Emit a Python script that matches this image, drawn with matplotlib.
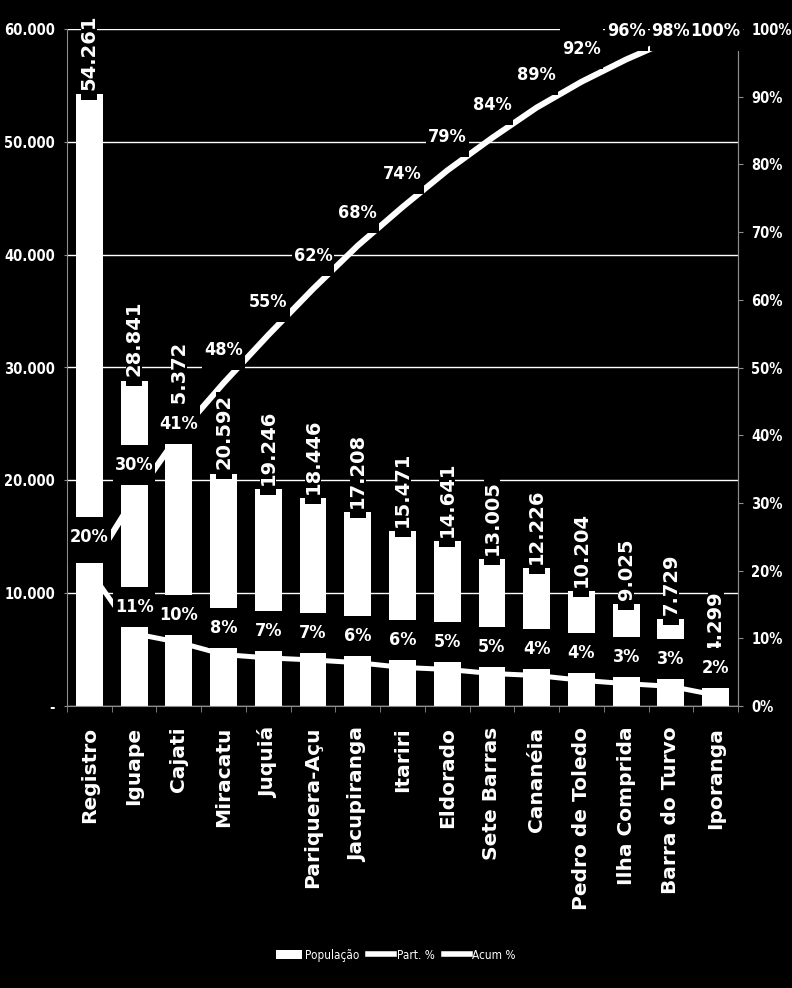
import matplotlib
matplotlib.use("Agg")
import matplotlib.pyplot as plt
from matplotlib.path import Path
from matplotlib.patches import Patch
from matplotlib.lines import Line2D
from matplotlib.font_manager import FontProperties

# ---------------- data ----------------
categories = ["Registro", "Iguape", "Cajati", "Miracatu", "Juquiá", "Pariquera-Açu",
              "Jacupiranga", "Itariri", "Eldorado", "Sete Barras", "Cananéia",
              "Pedro de Toledo", "Ilha Comprida", "Barra do Turvo", "Iporanga"]
populacao = [54261, 28841, 25372, 20592, 19246, 18446, 17208, 15471, 14641,
             13005, 12226, 10204, 9025, 7729, 4299]
part_pct = [20.1, 10.7, 9.4, 7.6, 7.1, 6.8, 6.4, 5.7, 5.4, 4.8, 4.5, 3.8, 3.3, 2.9, 1.6]
acum_pct = [20.1, 30.7, 40.1, 47.7, 54.8, 61.6, 68.0, 73.7, 79.1, 83.9, 88.4, 92.2, 95.5, 98.4, 100.0]
part_labels = ["20%", "11%", "10%", "8%", "7%", "7%", "6%", "6%", "5%", "5%",
               "4%", "4%", "3%", "3%", "2%"]
acum_labels = ["20%", "30%", "41%", "48%", "55%", "62%", "68%", "74%", "79%", "84%",
               "89%", "92%", "96%", "98%", "100%"]
left_ticks = [0, 10000, 20000, 30000, 40000, 50000, 60000]
right_ticks = [0, 10, 20, 30, 40, 50, 60, 70, 80, 90, 100]
legend_labels = ["População", "Part. %", "Acum %"]

GRAY = "#8c8c8c"
W, H = 792, 988


def nprops(size, weight="bold"):
    return FontProperties(family="DejaVu Sans", stretch="condensed", weight=weight, size=size)


def fmt_thousands(v):
    return "-" if v == 0 else f"{v:,}".replace(",", ".")


class PadBox:
    """Rectangle box with independent paddings (pixels) in the text frame."""
    def __init__(self, l, r, b, t):
        self.l, self.r, self.b, self.t = l, r, b, t

    def __call__(self, x0, y0, width, height, mutation_size, *args):
        xa, xb = x0 - self.l, x0 + width + self.r
        ya, yb = y0 - self.b, y0 + height + self.t
        return Path([(xa, ya), (xb, ya), (xb, yb), (xa, yb), (xa, ya)], closed=True)


fig = plt.figure(figsize=(W / 100, H / 100), dpi=100, facecolor="black")
ax = fig.add_axes([67 / W, 1 - 706 / H, (738 - 67) / W, (706 - 29) / H])
ax.set_facecolor("black")

x = list(range(len(categories)))
ax.bar(x, populacao, width=0.6, color="white", zorder=2)
ax.set_xlim(-0.5, len(categories) - 0.5)
ax.set_ylim(0, 60000)
ax.set_yticks(left_ticks)
ax.set_yticklabels([fmt_thousands(v) for v in left_ticks])
ax.grid(axis="y", color="white", lw=1)
ax.set_axisbelow(True)
ax.spines["top"].set_visible(False)
for s in ["left", "right", "bottom"]:
    ax.spines[s].set_color(GRAY)
ax.tick_params(axis="y", colors=GRAY, length=2.2, labelcolor="white", pad=6.5)
for lab in ax.get_yticklabels():
    lab.set_fontproperties(nprops(10.5))

ax.set_xticks(x)
ax.set_xticklabels(categories, rotation=90, fontsize=14.5, fontweight="bold",
                   family="DejaVu Sans", color="white")
ax.tick_params(axis="x", which="major", length=0, pad=15)
ax.set_xticks([i - 0.5 for i in range(len(categories) + 1)], minor=True)
ax.tick_params(axis="x", which="minor", length=4.5, color=GRAY)

ax2 = ax.twinx()
ax2.set_ylim(0, 100)
ax2.set_yticks(right_ticks)
ax2.set_yticklabels([f"{v}%" for v in right_ticks])
ax2.tick_params(axis="y", colors=GRAY, length=3.6, labelcolor="white", pad=6)
for lab in ax2.get_yticklabels():
    lab.set_fontproperties(nprops(10.5))
for s in ["top", "left", "bottom"]:
    ax2.spines[s].set_visible(False)
ax2.spines["right"].set_color(GRAY)

ax2.plot(x, part_pct, color="white", lw=3.6, zorder=3)
ax2.plot(x, acum_pct, color="white", lw=4.3, zorder=3)

# bar value labels
for i, v in enumerate(populacao):
    ax2.annotate(fmt_thousands(v), xy=(i, v), xycoords=ax.transData,
                 xytext=(0, 3), textcoords="offset points", rotation=90,
                 ha="center", va="bottom", fontsize=14, fontweight="bold",
                 family="DejaVu Sans", color="white", zorder=5, annotation_clip=False,
                 bbox=dict(boxstyle=PadBox(10, 2, -1.5, -1.5), fc="black", ec="none"))

# Part % labels
for i, (p, lbl) in enumerate(zip(part_pct, part_labels)):
    ax2.annotate(lbl, xy=(i, p), xytext=(0, 27 * 0.72), textcoords="offset points",
                 ha="center", va="center", fontproperties=nprops(13),
                 color="white", zorder=6, annotation_clip=False,
                 bbox=dict(boxstyle=PadBox(2, 2, 11, 11), fc="black", ec="none"))

# Acum % labels (kept inside the chart near the top)
top_center = H - 31
for i, (a, lbl) in enumerate(zip(acum_pct, acum_labels)):
    ydisp = ax2.transData.transform((i, a))[1]
    off_px = 11 if i == 2 else 33
    off_px = min(off_px, top_center - ydisp)
    ax2.annotate(lbl, xy=(i, a), xytext=(0, off_px * 0.72), textcoords="offset points",
                 ha="center", va="center", fontproperties=nprops(13),
                 color="white", zorder=7, annotation_clip=False,
                 bbox=dict(boxstyle=PadBox(2, 2, 11, 11), fc="black", ec="none"))

handles = [Patch(facecolor="white", edgecolor="none"),
           Line2D([], [], color="white", lw=4),
           Line2D([], [], color="white", lw=4)]
fig.legend(handles, legend_labels, loc="center", bbox_to_anchor=(0.5, 1 - 955 / H),
           ncol=3, frameon=False, prop=nprops(8.5, weight="normal"),
           labelcolor="white", handlelength=2.2, columnspacing=0.8, handletextpad=0.2)

fig.savefig("out.png", dpi=100, facecolor="black")
